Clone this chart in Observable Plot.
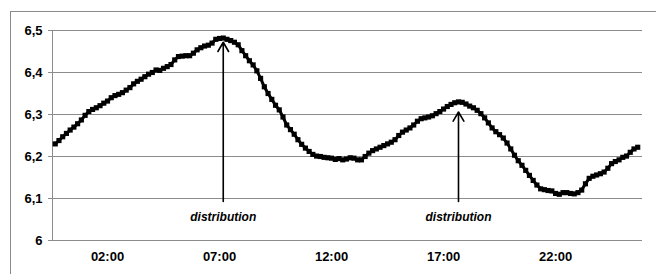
<!DOCTYPE html>
<html><head><meta charset="utf-8">
<script src="https://cdn.jsdelivr.net/npm/d3@7"></script>
<script src="https://cdn.jsdelivr.net/npm/@observablehq/plot@0.6"></script>
<style>
html,body{margin:0;padding:0;background:#fff;overflow:hidden;}
#wrap{position:relative;width:656px;height:274px;overflow:hidden;}
#frame{position:absolute;left:10px;top:11px;width:700px;height:300px;border:1px solid #8a8a8a;box-sizing:border-box;}
#chart{position:absolute;left:0;top:0;}
</style></head><body>
<div id="wrap"><div id="frame"></div><div id="chart"></div></div>
<script>
// readings every 10 minutes, first one at 23:40 of the previous day (hour -1/3)
const firstHour = -1/3;
const stepMinutes = 10;
const values = [
  6.230,6.238,6.247,6.255,6.263,6.270,6.278,6.287,6.298,6.307,
  6.312,6.316,6.321,6.327,6.332,6.340,6.345,6.348,6.352,6.358,
  6.364,6.373,6.379,6.384,6.390,6.396,6.400,6.406,6.405,6.410,
  6.414,6.419,6.430,6.438,6.439,6.440,6.440,6.446,6.454,6.459,
  6.463,6.465,6.470,6.479,6.481,6.482,6.479,6.476,6.472,6.466,
  6.452,6.440,6.428,6.418,6.404,6.386,6.366,6.350,6.336,6.322,
  6.311,6.294,6.275,6.264,6.253,6.240,6.229,6.220,6.212,6.205,
  6.201,6.200,6.198,6.197,6.196,6.193,6.195,6.192,6.194,6.197,
  6.196,6.192,6.192,6.200,6.208,6.214,6.218,6.222,6.226,6.230,
  6.234,6.240,6.250,6.258,6.263,6.268,6.275,6.284,6.290,6.292,
  6.294,6.297,6.302,6.307,6.313,6.319,6.324,6.328,6.330,6.329,
  6.325,6.320,6.316,6.310,6.302,6.292,6.280,6.268,6.259,6.252,
  6.244,6.232,6.218,6.203,6.190,6.179,6.167,6.155,6.143,6.132,
  6.123,6.121,6.119,6.118,6.112,6.110,6.114,6.114,6.112,6.111,
  6.114,6.120,6.135,6.148,6.153,6.156,6.159,6.163,6.172,6.183,
  6.188,6.192,6.198,6.201,6.210,6.218,6.222
];
const xDomain = [-0.455, 25.88];
const yDomain = [6, 6.5];
const yTicks = [6, 6.1, 6.2, 6.3, 6.4, 6.5];
const yTickLabels = ["6", "6,1", "6,2", "6,3", "6,4", "6,5"];
const xTicks = [2, 7, 12, 17, 22];
const xTickLabels = ["02:00", "07:00", "12:00", "17:00", "22:00"];
const eventHours = [7 + 10/60, 17 + 40/60];
const eventLabels = ["distribution", "distribution"];
const arrowBase = [6.093, 6.093];
const arrowTip = [6.472, 6.306];
const labelLevel = [6.055, 6.055];

const data = values.map((v, i) => ({h: firstHour + i * stepMinutes / 60, v}));
const events = eventHours.map((h, i) => ({h, base: arrowBase[i], tip: arrowTip[i], ly: labelLevel[i], label: eventLabels[i]}));

const grid = "#8c8c8c";
const chart = Plot.plot({
  width: 656, height: 274,
  marginLeft: 52, marginRight: 14, marginTop: 30, marginBottom: 34,
  x: {domain: xDomain},
  y: {domain: yDomain},
  style: {fontFamily: "'Liberation Sans', Arial, sans-serif", fontSize: "13px", fontWeight: "bold", color: "#000", background: "transparent"},
  marks: [
    Plot.gridY(yTicks, {stroke: grid, strokeOpacity: 1, strokeWidth: 1}),
    Plot.ruleX([xDomain[0]], {stroke: grid, strokeWidth: 1}),
    Plot.axisY(yTicks, {tickFormat: (d) => yTickLabels[yTicks.indexOf(d)], tickSize: 4, tickPadding: 6, stroke: grid, fill: "#000", fontSize: 13, label: null}),
    Plot.axisX(xTicks, {tickFormat: (d) => xTickLabels[xTicks.indexOf(d)], tickSize: 0, tickPadding: 11, fill: "#000", fontSize: 13, label: null}),
    Plot.line(data, {x: "h", y: "v", stroke: "#000", strokeWidth: 3}),
    Plot.dot(data, {x: "h", y: "v", symbol: "square", r: 2.9, fill: "#000", stroke: null}),
    Plot.arrow(events, {x: "h", y1: "base", y2: "tip", stroke: "#000", strokeWidth: 1.6, headLength: 10}),
    Plot.text(events, {x: "h", y: "ly", text: "label", fontStyle: "italic", fontWeight: "bold", fontSize: 12, fill: "#000"})
  ]
});
document.getElementById("chart").appendChild(chart);
</script>
</body></html>
